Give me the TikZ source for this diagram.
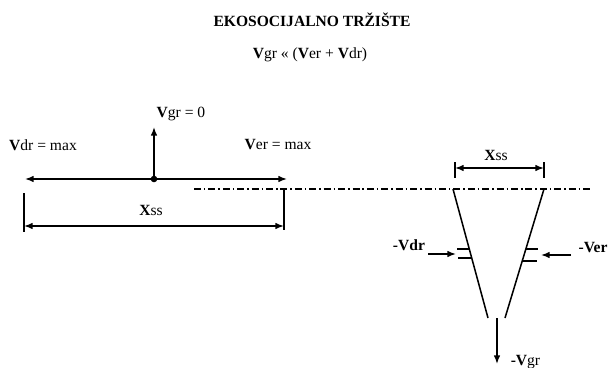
\documentclass[tikz,border=0pt]{standalone}
\usepackage{fontspec}
\setmainfont{Liberation Serif}
\usepackage{tikz}
\usetikzlibrary{arrows.meta,calc}

\newcommand{\bV}{\textbf{V}}

\begin{document}
\begin{tikzpicture}[x=0.03cm,y=-0.03cm,
  line width=1.3pt,
  lbl/.style={font=\fontsize{13.3}{15}\selectfont, inner sep=0pt},
  arr/.style={-{Latex[length=2.6mm,width=2mm]}},
  dimarr/.style={{Latex[length=2.6mm,width=2mm]}-{Latex[length=2.6mm,width=2mm]}},
  dashdot/.style={line width=1.1pt, dash pattern=on 6pt off 2.5pt on 1.3pt off 2.5pt}]
\useasboundingbox (0,0) rectangle (610,368);
% heading
\node[lbl, font=\fontsize{13.3}{15}\selectfont\bfseries] (title) at (312,20) {EKOSOCIJALNO TRŽIŠTE};
\node[lbl] (formula) at (310,55) {\bV gr « (\bV er + \bV dr)};
% left: forces at equilibrium
\coordinate (dot) at (154,179);
\coordinate (lend) at (25,179);
\coordinate (rend) at (287,179);
\coordinate (up) at (154,127);
\draw[dimarr] (lend) -- (rend);
\draw[arr] (dot) -- (up);
\fill (dot) circle (3.3);
\node[lbl] (vgr) at (181,114) {\bV gr = 0};
\node[lbl] (vdr) at (43,145) {\bV dr = max};
\node[lbl] (ver) at (278,145) {\bV er = max};
% left: width
\coordinate (la) at (24,193);
\coordinate (lb) at (24,232);
\coordinate (ra) at (284,188);
\coordinate (rb) at (284,230);
\draw (la) -- (lb);
\draw (ra) -- (rb);
\draw[dimarr] (24,226) -- (284,226);
\node[lbl] (xss) at (151,210) {\textbf{X}ss};
% axis line
\coordinate (axl) at (194,189);
\coordinate (axr) at (593,189);
\draw[dashdot] (axl) -- (axr);
% right: funnel
\coordinate (tl) at (453,189);
\coordinate (tr) at (544,189);
\coordinate (bl) at (488,318);
\coordinate (br) at (505,318);
\draw (tl) -- (bl);
\draw (tr) -- (br);
\draw ($(tl)!0.465!(bl)$) -- +(-12,0);
\draw ($(tl)!0.535!(bl)$) -- +(-14,0);
\draw ($(tr)!0.465!(br)$) -- +(12,0);
\draw ($(tr)!0.56!(br)$) -- +(15,0);
% right: width
\draw (455,162) -- (455,178);
\draw (544,162) -- (544,178);
\draw[dimarr] (455,168) -- (544,168);
\node[lbl] (xss2) at (496,155) {\textbf{X}ss};
% right: pressures
\coordinate (drs) at (428,254);
\coordinate (dre) at (456,254);
\draw[arr] (drs) -- (dre);
\node[lbl] (mvdr) at (409,245) {\textbf{-Vdr}};
\coordinate (ers) at (571,255);
\coordinate (ere) at (541,255);
\draw[arr] (ers) -- (ere);
\node[lbl] (mver) at (593,248) {\textbf{-Ver}};
\coordinate (grs) at (497,318);
\coordinate (gre) at (497,364);
\draw[arr] (grs) -- (gre);
\node[lbl, anchor=west] (mvgr) at (510,362) {\textbf{-V}gr};
\end{tikzpicture}
\end{document}
